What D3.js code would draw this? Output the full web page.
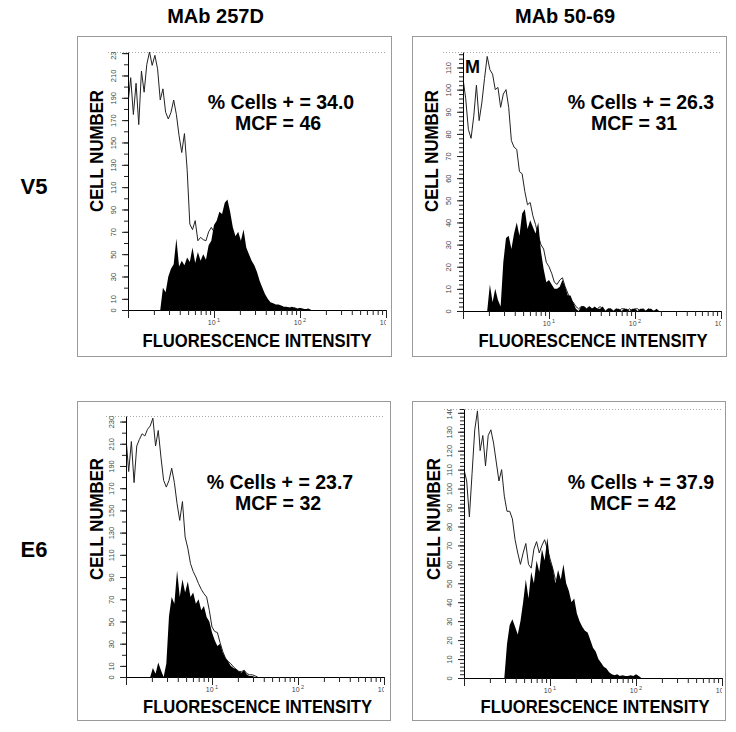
<!DOCTYPE html>
<html><head><meta charset="utf-8">
<script src="https://cdn.jsdelivr.net/npm/d3@7/dist/d3.min.js"></script>
<style>
body{margin:0;background:#fff}
svg{display:block;font-family:"Liberation Sans",Arial,Helvetica,sans-serif}
</style>
</head><body>
<svg id="chart" width="736" height="732"></svg>
<script>
// ---------------- data ----------------
const columnTitles = ["MAb 257D", "MAb 50-69"];
const rowLabels = ["V5", "E6"];
const channelsPerDecade = 32;          // histogram channel resolution (log scale)
const xDecadeLabels = [1, 2, 3];        // labelled decades 10^1 .. 10^3
const xDomain = [1, 1000];

// counts per channel (index = channel), unfilled = control, filled = stained
const v5_257D_control = [185,208,175,203,166,214,195,220,231,219,228,216,188,198,177,171,177,188,175,156,141,158,126,77,72,80,62,65,63,62,70,74,70,66,62,58,54,50,46,42,38,35,32,28,24,20,17,14,12,10,8,7,6,5,4,4,3,3,2,2,2,1,2,1,1,1,0,1,0];
const v5_257D_stained = [0,0,0,0,0,0,0,0,0,0,0,0,0,20,16,30,37,41,64,39,44,40,47,43,56,42,52,44,50,45,58,62,76,80,88,86,96,99,88,74,66,70,62,72,56,50,44,40,34,26,20,14,10,7,6,5,5,4,3,3,2,3,2,1,2,1,1,1,0];
const v5_5069_control = [105,96,82,78,88,102,86,94,105,115,109,107,100,101,92,98,100,92,77,74,73,63,62,54,48,49,43,39,34,30,28,22,20,17,13,12,14,15,11,8,5,4,2,1,2,2,1,2,1,1,1,2,1,0,1,1,0,1,0,1,1,0,1,0,1,1,0,1,0,1,0,0,0];
const v5_5069_stained = [0,0,0,0,0,0,0,0,0,0,12,4,10,5,2,22,33,34,28,35,40,34,44,46,37,41,38,35,40,27,19,13,14,12,10,10,11,14,11,7,7,4,1,0,2,2,1,2,1,2,1,1,2,0,1,1,0,1,1,0,1,1,0,1,1,0,1,1,0,1,1,0,1,0];
const e6_257D_control = [215,185,212,175,208,214,219,217,223,226,233,208,222,198,177,171,177,188,175,156,141,158,126,116,102,95,90,84,79,75,72,60,45,41,40,31,23,17,14,12,9,7,5,5,6,3,2,2,1,0];
const e6_257D_stained = [0,0,0,0,0,0,0,0,0,0,8,3,13,6,0,12,55,72,66,96,72,88,76,86,72,76,66,70,60,64,54,50,40,33,28,30,22,17,14,10,8,7,5,4,6,2,1,1,0];
const e6_5069_control = [110,104,85,108,131,141,120,128,112,128,131,124,114,104,110,96,88,88,84,73,66,60,66,71,60,58,68,72,66,70,73,68,63,58,52,50,48,44,40,36,33,30,27,24,21,18,15,12,9,7,5,4,3,2,2,1,1,0];
const e6_5069_stained = [0,0,0,0,0,0,0,0,0,0,0,0,0,0,0,0,18,28,31,27,23,30,40,52,42,56,50,62,56,68,62,74,62,58,50,57,52,60,50,46,40,42,34,30,27,25,24,20,16,14,10,8,6,5,3,2,1.5,2,1,1.5,1,1,1.5,1,2,1,0];

const pctPositive = ["34.0", "26.3", "23.7", "37.9"];
const mcfValues = ["46", "31", "32", "42"];
const yMaxValues = [231, 117, 235, 142];
const yLabelTicks = [
  [0,10,30,50,70,90,110,130,150,170,190,210,230],
  [0,10,20,30,40,50,60,70,80,90,100,110],
  [0,10,30,50,70,90,110,130,150,170,190,210,230],
  [0,10,20,30,40,50,60,70,80,90,100,110,120,130,140]
];
const yMinorStep = [10, 2, 10, 2];
const panelMarkers = ["", "M", "", ""];

const controls = [v5_257D_control, v5_5069_control, e6_257D_control, e6_5069_control];
const stains = [v5_257D_stained, v5_5069_stained, e6_257D_stained, e6_5069_stained];

// ---------------- layout ----------------
const layout = [
  {ox:128, oy:310, top:52,  frame:[77.5,36.5,391.5,356.5], ann:[281,109,278,130], yl:[103,151], xl:[257,347]},
  {ox:463, oy:311, top:52,  frame:[412.5,36.5,726.5,356.5], ann:[641,109,634,130], yl:[438,151], xl:[593,347]},
  {ox:126, oy:677, top:416, frame:[77.5,401.5,390.5,720.5], ann:[280,489,278,510], yl:[103,519], xl:[257.5,713]},
  {ox:464, oy:678, top:409, frame:[412.5,401.5,725.5,720.5], ann:[641,489,633,510], yl:[440,519], xl:[595,713]}
];
const plotW = 258;

const svg = d3.select("#chart");
svg.append("rect").attr("width",736).attr("height",732).attr("fill","#fff");
const defs = svg.append("defs");

[215.5, 565].forEach((cx,i)=>{
  svg.append("text").attr("x",cx).attr("y",23).attr("text-anchor","middle")
    .attr("font-size",20).attr("font-weight","bold").attr("fill","#000").text(columnTitles[i]);
});
[194, 557].forEach((by,i)=>{
  svg.append("text").attr("x",34).attr("y",by).attr("text-anchor","middle")
    .attr("font-size",22).attr("font-weight","bold").attr("fill","#000").text(rowLabels[i]);
});

layout.forEach((p,i)=>{
  const g = svg.append("g");
  const x = d3.scaleLog().domain(xDomain).range([p.ox, p.ox+plotW]);
  const y = d3.scaleLinear().domain([0, yMaxValues[i]]).range([p.oy, p.top]);
  const fx = c => x(Math.pow(10, c/channelsPerDecade));

  const f = p.frame;
  g.append("rect").attr("x",f[0]).attr("y",f[1]).attr("width",f[2]-f[0]).attr("height",f[3]-f[1])
    .attr("fill","none").attr("stroke","#9a9a9a").attr("stroke-width",1);

  g.append("line").attr("x1",p.ox-20).attr("x2",p.ox+plotW).attr("y1",p.top+0.5).attr("y2",p.top+0.5)
    .attr("stroke","#aaa").attr("stroke-width",1).attr("stroke-dasharray","1,2");

  defs.append("clipPath").attr("id","clipD"+i).append("rect")
    .attr("x",p.ox).attr("y",p.top-1).attr("width",plotW).attr("height",p.oy-p.top+1);
  const dg = g.append("g").attr("clip-path","url(#clipD"+i+")");

  // control outline first, stained filled histogram on top (hides the outline beneath it)
  const line = d3.line().x((d,c)=>fx(c)).y(d=>y(d));
  dg.append("path").datum(controls[i]).attr("d",line).attr("fill","none")
    .attr("stroke","#222").attr("stroke-width",1).attr("stroke-linejoin","round");
  const area = d3.area().x((d,c)=>fx(c)).y0(p.oy).y1(d=>y(d));
  dg.append("path").datum(stains[i]).attr("d",area).attr("fill","#000");

  const minor = d3.range(0, yMaxValues[i]+0.001, yMinorStep[i]);
  g.append("g").attr("transform",`translate(${p.ox},0)`)
    .call(d3.axisLeft(y).tickValues(minor).tickSize(4).tickSizeOuter(0).tickFormat(""))
    .call(s=>s.select(".domain").attr("stroke","#000"))
    .call(s=>s.selectAll(".tick line").attr("stroke","#222"));
  defs.append("clipPath").attr("id","clipY"+i).append("rect")
    .attr("x",-30).attr("y",p.top).attr("width",30).attr("height",p.oy-p.top+12);
  const ya = g.append("g").attr("transform",`translate(${p.ox},0)`)
    .call(d3.axisLeft(y).tickValues(yLabelTicks[i]).tickSize(6).tickSizeOuter(0).tickFormat(d3.format("d")));
  ya.attr("clip-path","url(#clipY"+i+")");
  ya.select(".domain").remove();
  ya.selectAll(".tick line").attr("stroke","#222");
  ya.selectAll(".tick text").attr("transform","rotate(-90)").attr("x",0).attr("y",-12).attr("dy",0)
    .attr("text-anchor","middle").attr("font-size",7.5).attr("fill","#444")
    .attr("font-family","'Liberation Sans',Arial,sans-serif");

  const xMinor = [];
  [1,10,100].forEach(b=>{ for(let k=2;k<=9;k++) xMinor.push(b*k); });
  g.append("g").attr("transform",`translate(0,${p.oy})`)
    .call(d3.axisBottom(x).tickValues(xMinor).tickSize(5).tickSizeOuter(0).tickFormat(""))
    .call(s=>s.select(".domain").attr("stroke","#000"))
    .call(s=>s.selectAll(".tick line").attr("stroke","#222"));
  g.append("g").attr("transform",`translate(0,${p.oy})`)
    .call(d3.axisBottom(x).tickValues([1,10,100,1000]).tickSize(8).tickSizeOuter(0).tickFormat(""))
    .call(s=>s.select(".domain").remove())
    .call(s=>s.selectAll(".tick line").attr("stroke","#222"));

  defs.append("clipPath").attr("id","clipX"+i).append("rect")
    .attr("x",p.ox).attr("y",p.oy).attr("width",plotW).attr("height",25);
  const xl = g.append("g").attr("clip-path","url(#clipX"+i+")");
  xDecadeLabels.forEach(dd=>{
    const t = xl.append("text").attr("x",x(Math.pow(10,dd))).attr("y",p.oy+15)
      .attr("text-anchor","middle").attr("font-size",7).attr("fill","#444");
    t.append("tspan").text("10");
    t.append("tspan").attr("dx",1.5).attr("dy",-3).attr("font-size",5.5).text(dd);
  });

  g.append("text").attr("transform",`translate(${p.yl[0]},${p.yl[1]}) rotate(-90)`)
    .attr("text-anchor","middle").attr("font-size",18).attr("font-weight","bold")
    .attr("textLength",122).attr("lengthAdjust","spacingAndGlyphs").text("CELL NUMBER");
  g.append("text").attr("x",p.xl[0]).attr("y",p.xl[1])
    .attr("text-anchor","middle").attr("font-size",18).attr("font-weight","bold")
    .attr("textLength",229).attr("lengthAdjust","spacingAndGlyphs").text("FLUORESCENCE INTENSITY");

  g.append("text").attr("x",p.ann[0]).attr("y",p.ann[1]).attr("text-anchor","middle")
    .attr("font-size",19.5).attr("font-weight","bold").text("% Cells + = " + pctPositive[i]);
  g.append("text").attr("x",p.ann[2]).attr("y",p.ann[3]).attr("text-anchor","middle")
    .attr("font-size",19.5).attr("font-weight","bold").text("MCF = " + mcfValues[i]);

  if (panelMarkers[i]) {
    g.append("text").attr("x",p.ox+2).attr("y",p.top+21).attr("font-size",18)
      .attr("font-weight","bold").text(panelMarkers[i]);
  }
});
</script>
</body></html>
